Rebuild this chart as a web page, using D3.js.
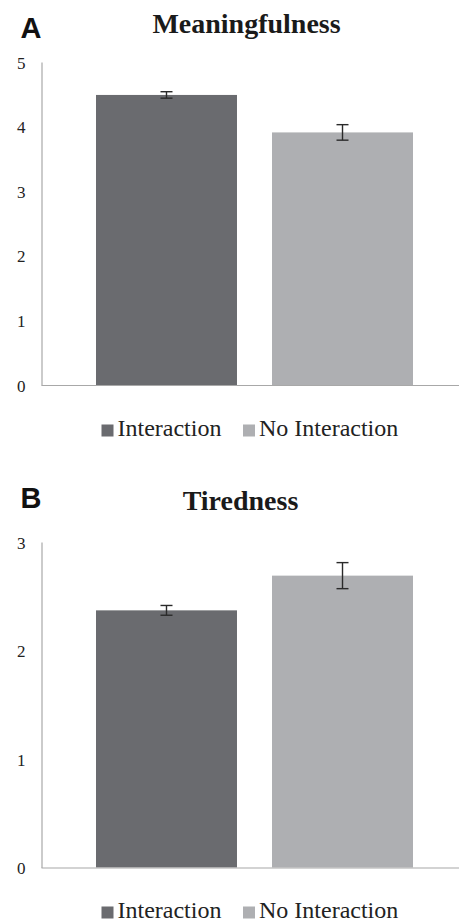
<!DOCTYPE html>
<html>
<head>
<meta charset="utf-8">
<script src="https://cdn.jsdelivr.net/npm/d3@7"></script>
<style>
  html, body { margin: 0; padding: 0; background: #fff; }
  svg { display: block; }
</style>
</head>
<body>
<svg id="chart" width="459" height="922"></svg>
<script>
// ---- data ----
const series = ["Interaction", "No Interaction"];
const meaningMeans = [4.49, 3.91];
const meaningErrors = [0.05, 0.12];
const meaningTicks = [0, 1, 2, 3, 4, 5];
const tirednessMeans = [2.37, 2.69];
const tirednessErrors = [0.045, 0.12];
const tirednessTicks = [0, 1, 2, 3];
const panelLabels = ["A", "B"];
const panelTitles = ["Meaningfulness", "Tiredness"];
const seriesColors = ["#6a6b6f", "#aeafb2"];

// ---- layout ----
const svg = d3.select("#chart");
const serif = "'Liberation Serif', 'Times New Roman', serif";
const sans = "'Liberation Sans', Arial, sans-serif";

const x = d3.scaleBand().domain(series).range([41, 468]).paddingInner(0.199).paddingOuter(0.3125);
const color = d3.scaleOrdinal().domain(series).range(seriesColors);

const panels = [
  { label: panelLabels[0], title: panelTitles[0], means: meaningMeans, errs: meaningErrors, ticks: meaningTicks,
    yTop: 62, yBot: 385, labelY: 38, titleX: 246.5, titleY: 33, legendY: 436 },
  { label: panelLabels[1], title: panelTitles[1], means: tirednessMeans, errs: tirednessErrors, ticks: tirednessTicks,
    yTop: 542, yBot: 867.5, labelY: 508, titleX: 240.5, titleY: 510, legendY: 918 }
];

panels.forEach(p => {
  const g = svg.append("g");
  const y = d3.scaleLinear().domain([0, d3.max(p.ticks)]).range([p.yBot, p.yTop]);

  g.append("text").attr("x", 20.5).attr("y", p.labelY)
    .attr("font-family", sans).attr("font-weight", "bold").attr("font-size", 29)
    .attr("fill", "#111").text(p.label);

  g.append("text").attr("x", p.titleX).attr("y", p.titleY)
    .attr("text-anchor", "middle")
    .attr("font-family", serif).attr("font-weight", "bold").attr("font-size", 28)
    .attr("fill", "#1a1a1a").text(p.title);

  // bars
  const data = series.map((s, i) => ({ s, v: p.means[i], e: p.errs[i] }));
  g.selectAll("rect.bar").data(data).join("rect")
    .attr("class", "bar")
    .attr("x", d => x(d.s)).attr("width", x.bandwidth())
    .attr("y", d => y(d.v)).attr("height", d => y(0) - y(d.v))
    .attr("fill", d => color(d.s));

  // y axis
  const ya = g.append("g").attr("transform", "translate(41.5,0)")
    .call(d3.axisLeft(y).tickValues(p.ticks).tickSize(0).tickSizeOuter(0).tickPadding(16).tickFormat(d3.format("d")));
  ya.select(".domain").attr("stroke", "#a8a8a8").attr("stroke-width", 1.2);
  ya.selectAll("text").attr("font-family", serif).attr("font-size", 17).attr("fill", "#222").attr("dy", "0.36em");

  // x axis baseline
  const xa = g.append("g").attr("transform", `translate(0,${y(0)})`)
    .call(d3.axisBottom(x).tickSize(0).tickSizeOuter(0).tickFormat(""));
  xa.select(".domain").attr("stroke", "#a8a8a8").attr("stroke-width", 1.2);

  // error bars
  const cap = 6;
  const eb = g.selectAll("g.err").data(data).join("g").attr("class", "err")
    .attr("stroke", "#2a2a2a").attr("stroke-width", 1.4);
  eb.append("line")
    .attr("x1", d => x(d.s) + x.bandwidth() / 2).attr("x2", d => x(d.s) + x.bandwidth() / 2)
    .attr("y1", d => y(d.v + d.e)).attr("y2", d => y(d.v - d.e));
  eb.append("line")
    .attr("x1", d => x(d.s) + x.bandwidth() / 2 - cap).attr("x2", d => x(d.s) + x.bandwidth() / 2 + cap)
    .attr("y1", d => y(d.v + d.e)).attr("y2", d => y(d.v + d.e));
  eb.append("line")
    .attr("x1", d => x(d.s) + x.bandwidth() / 2 - cap).attr("x2", d => x(d.s) + x.bandwidth() / 2 + cap)
    .attr("y1", d => y(d.v - d.e)).attr("y2", d => y(d.v - d.e));

  // legend
  const legendX = [101.5, 243];
  const lg = g.selectAll("g.leg").data(series).join("g").attr("class", "leg")
    .attr("transform", (d, i) => `translate(${legendX[i]},${p.legendY})`);
  lg.append("rect").attr("x", 0).attr("y", -11.5).attr("width", 12).attr("height", 12)
    .attr("fill", d => color(d));
  lg.append("text").attr("x", 16).attr("y", 0)
    .attr("font-family", serif).attr("font-size", 24).attr("fill", "#222").text(d => d);
});
</script>
</body>
</html>
